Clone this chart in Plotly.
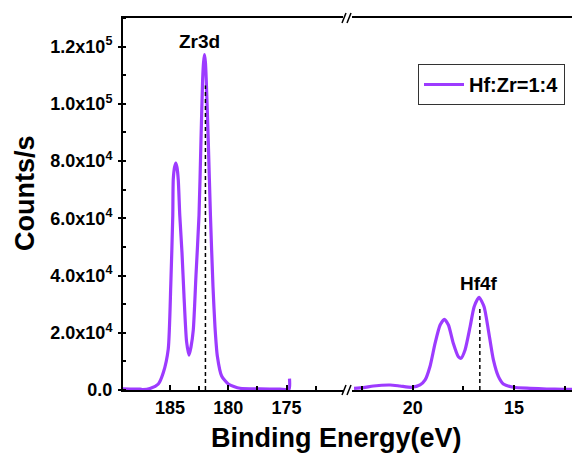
import plotly.graph_objects as go

# ---- data ----
zr_be = [189.03, 188.43, 187.57, 187.32, 186.72, 186.00, 185.57, 185.15, 184.93, 184.76,
         184.72, 184.61, 184.50, 184.40, 184.29, 184.16, 183.97, 183.80, 183.58, 183.37,
         183.20, 183.00, 182.77, 182.51, 182.34, 182.20, 182.12, 182.04, 181.96, 181.89,
         181.72, 181.53, 181.31, 181.14, 180.94, 180.57, 180.00, 179.00, 177.28, 175.57,
         174.79, 174.75]
zr_cts = [400, 350, 300, 150, 500, 2100, 6100, 14300, 37000, 61000,
          73500, 77800, 79300, 77800, 73500, 61000, 48000, 33000, 17000, 12200,
          15000, 21000, 40000, 61000, 87500, 108400, 114500, 117200, 114500, 108400,
          87500, 61000, 36000, 22000, 11900, 4900, 2100, 600, 400, 300,
          300, 4000]

hf_be = [22.90, 22.44, 21.94, 21.12, 20.63, 20.05, 19.64, 19.39, 19.15, 18.90,
         18.65, 18.44, 18.24, 18.00, 17.75, 17.62, 17.42, 17.17, 16.97, 16.73,
         16.48, 16.27, 16.02, 15.77, 15.53, 15.03, 14.21, 13.39, 12.58, 12.14]
hf_cts = [600, 800, 1400, 1750, 1400, 950, 1750, 3500, 8200, 16300,
          22700, 24700, 22700, 16300, 11600, 11100, 14000, 22100, 29100, 32400,
          29100, 21000, 10500, 4650, 2100, 950, 600, 350, 250, 250]

zr_ref_be = [181.96, 181.96]
zr_ref_cts = [0, 106400]
hf_ref_be = [16.69, 16.69]
hf_ref_cts = [0, 29100]

left_range = [189.03, 170.16]
right_range = [23.0, 12.14]
left_ticks = [185, 180, 175]
left_minor = [182.5, 177.5, 172.5]
right_ticks = [20, 15]
right_minor = [22.5, 17.5, 12.5]

y_ticks = [0, 20000, 40000, 60000, 80000, 100000, 120000]
y_ticktext = ["0.0", "2.0x10<sup>4</sup>", "4.0x10<sup>4</sup>", "6.0x10<sup>4</sup>",
              "8.0x10<sup>4</sup>", "1.0x10<sup>5</sup>", "1.2x10<sup>5</sup>"]

series_name = "Hf:Zr=1:4"
purple = "#9D3BFF"
FONT = "Liberation Sans, Arial, sans-serif"

fig = go.Figure()
fig.add_trace(go.Scatter(x=zr_be, y=zr_cts, mode="lines", name=series_name,
                         line=dict(color=purple, width=3.2, shape="spline", smoothing=0.6),
                         xaxis="x", yaxis="y", showlegend=True))
fig.add_trace(go.Scatter(x=hf_be, y=hf_cts, mode="lines", name=series_name,
                         line=dict(color=purple, width=3.2, shape="spline", smoothing=0.6),
                         xaxis="x2", yaxis="y", showlegend=False))
fig.add_trace(go.Scatter(x=zr_ref_be, y=zr_ref_cts, mode="lines",
                         line=dict(color="black", width=1.5, dash="4px,3px"),
                         xaxis="x", yaxis="y", showlegend=False))
fig.add_trace(go.Scatter(x=hf_ref_be, y=hf_ref_cts, mode="lines",
                         line=dict(color="black", width=1.5, dash="4px,3px"),
                         xaxis="x2", yaxis="y", showlegend=False))

W, H = 572, 455
L, R, T, B = 123, 0, 18, 65
pw = W - L - R
ph = H - T - B

def px(xp):
    return (xp - L) / pw

def py(yp):
    return (H - B - yp) / ph

tickfont = dict(family=FONT, size=18, color="black", weight="bold")
common_x = dict(showline=True, linecolor="black", linewidth=2, mirror=True,
                ticks="inside", ticklen=5, tickwidth=1.5, tickcolor="black",
                showgrid=False, zeroline=False, tickfont=tickfont, anchor="y")

fig.update_layout(
    width=W, height=H,
    margin=dict(l=L, r=R, t=T, b=B, pad=0),
    paper_bgcolor="white", plot_bgcolor="white",
    xaxis=dict(domain=[0, px(343)], range=left_range, tickmode="array",
               tickvals=left_ticks, ticktext=[str(v) for v in left_ticks],
               minor=dict(tickvals=left_minor, ticks="inside", ticklen=4,
                          tickwidth=1.5, tickcolor="black", showgrid=False),
               **common_x),
    xaxis2=dict(domain=[px(352), 1], range=right_range, tickmode="array",
                tickvals=right_ticks, ticktext=[str(v) for v in right_ticks],
                minor=dict(tickvals=right_minor, ticks="inside", ticklen=4,
                           tickwidth=1.5, tickcolor="black", showgrid=False),
                **common_x),
    yaxis=dict(range=[0, 130000], tickmode="array", tickvals=y_ticks, ticktext=y_ticktext,
               showline=True, linecolor="black", linewidth=2, mirror=False,
               ticks="outside", ticklen=3, tickwidth=1.5, tickcolor="black",
               minor=dict(dtick=10000, tick0=0, ticks="inside", ticklen=3,
                          tickwidth=1.5, tickcolor="black", showgrid=False),
               showgrid=False, zeroline=False, tickfont=tickfont, ticklabelstandoff=2),
    legend=dict(x=px(418), y=py(64), xanchor="left", yanchor="top",
                bordercolor="#333333", borderwidth=1, bgcolor="white",
                font=dict(family=FONT, size=20, color="black", weight="bold"),
                itemwidth=40, tracegroupgap=0),
    showlegend=True,
)

annfont = dict(family=FONT, size=19, color="black", weight="bold")
fig.add_annotation(text="Zr3d", xref="paper", yref="paper", x=px(199.5), y=py(41.5),
                   showarrow=False, font=annfont, xanchor="center", yanchor="middle")
fig.add_annotation(text="Hf4f", xref="paper", yref="paper", x=px(478.5), y=py(283),
                   showarrow=False, font=annfont, xanchor="center", yanchor="middle")
titlefont = dict(family=FONT, size=27, color="black", weight="bold")
fig.add_annotation(text="Binding Energy(eV)", xref="paper", yref="paper", x=px(336), y=py(438),
                   showarrow=False, font=titlefont, xanchor="center", yanchor="middle")
fig.add_annotation(text="Counts/s", xref="paper", yref="paper", x=px(25), y=py(193),
                   showarrow=False, font=titlefont, xanchor="center", yanchor="middle",
                   textangle=-90)

# axis break marks
for yb in (390, 18):
    for dx in (0, 5):
        fig.add_shape(type="line", xref="paper", yref="paper",
                      x0=px(342 + dx), y0=py(yb + 5), x1=px(346 + dx), y1=py(yb - 5),
                      line=dict(color="black", width=1.5))

fig.write_html("out.html", config={"displayModeBar": False},
               post_script="document.body.style.margin='0';document.body.style.overflow='hidden';")
